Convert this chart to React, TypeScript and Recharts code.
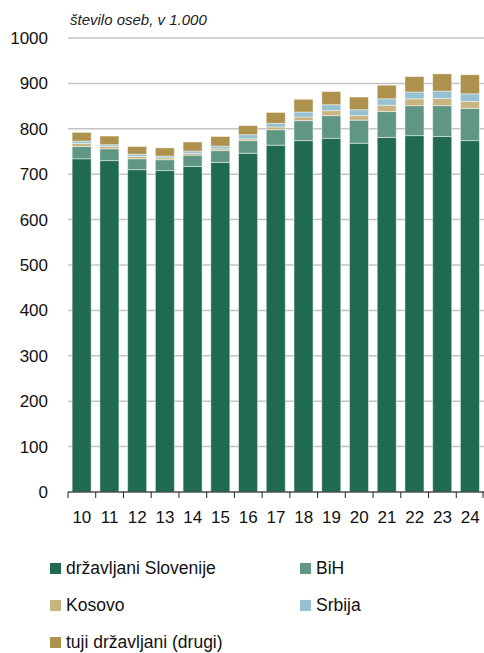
import { Bar, BarChart, CartesianGrid, Legend, XAxis, YAxis } from "recharts";

const years = ["10", "11", "12", "13", "14", "15", "16", "17", "18", "19", "20", "21", "22", "23", "24"];
const slovenija = [734, 730, 710, 708, 717, 726, 746, 764, 774, 779, 768, 781, 785, 783, 774];
const bih = [27, 26, 24, 24, 25, 26, 28, 34, 44, 50, 51, 57, 66, 68, 71];
const kosovo = [7, 5, 5, 4, 4, 4, 4, 6, 8, 11, 10, 14, 15, 16, 15];
const srbija = [5, 4, 5, 4, 5, 6, 9, 8, 11, 13, 13, 14, 15, 16, 17];
const drugi = [19, 19, 17, 18, 20, 21, 20, 24, 28, 29, 28, 30, 34, 38, 42];
const yTicks = [0, 100, 200, 300, 400, 500, 600, 700, 800, 900, 1000];

const series = [
  { key: "slovenija", name: "državljani Slovenije", color: "#1f6a50" },
  { key: "bih", name: "BiH", color: "#5f9784" },
  { key: "kosovo", name: "Kosovo", color: "#c8b47f" },
  { key: "srbija", name: "Srbija", color: "#96c1d1" },
  { key: "drugi", name: "tuji državljani (drugi)", color: "#ad914c" },
];

const data = years.map((y, i) => ({
  year: y,
  slovenija: slovenija[i],
  bih: bih[i],
  kosovo: kosovo[i],
  srbija: srbija[i],
  drugi: drugi[i],
}));

const W = 484;
const H = 653;
const LEFT = 68;
const STEP = (W - LEFT) / years.length;
const FONT = "'Liberation Sans', Arial, sans-serif";

function YearTick(props: any) {
  const { x, y, payload, index } = props;
  const last = index === years.length - 1;
  return (
    <g>
      <line x1={x - STEP / 2} x2={x - STEP / 2} y1={y} y2={y + 6} stroke="#222" />
      {last && <line x1={x + STEP / 2 - 1} x2={x + STEP / 2 - 1} y1={y} y2={y + 6} stroke="#222" />}
      <text x={x} y={y + 31} textAnchor="middle" fontSize={17} fill="#111" fontFamily={FONT}>
        {payload.value}
      </text>
    </g>
  );
}

function LegendBox() {
  return (
    <div style={{ position: "relative", width: W, height: 100, fontFamily: FONT, fontSize: 17.5, color: "#111" }}>
      {series.map((s, i) => (
        <div
          key={s.key}
          style={{
            position: "absolute",
            left: i % 2 === 0 ? 50 : 300,
            top: Math.floor(i / 2) * 37,
            display: "flex",
            alignItems: "center",
            height: 20,
          }}
        >
          <span style={{ width: 11, height: 11, background: s.color, marginRight: 5, display: "inline-block" }} />
          <span>{s.name}</span>
        </div>
      ))}
    </div>
  );
}

export default function App() {
  return (
    <div style={{ position: "absolute", left: 0, top: 0, width: W, height: H, background: "#fff" }}>
      <div
        style={{
          position: "absolute",
          left: 70,
          top: 11,
          fontFamily: FONT,
          fontStyle: "italic",
          fontSize: 15,
          color: "#222",
        }}
      >
        število oseb, v 1.000
      </div>
      <BarChart
        width={W}
        height={H}
        data={data}
        margin={{ top: 38, right: 0, left: 0, bottom: 121 }}
        barCategoryGap="15%"
      >
        <CartesianGrid vertical={false} stroke="#c4c4c4" strokeWidth={1.5} />
        <YAxis
          width={LEFT}
          domain={[0, 1000]}
          ticks={yTicks}
          axisLine={false}
          tickLine={false}
          tickSize={0}
          tickMargin={20}
          interval={0}
          tick={{ fontSize: 17, fill: "#111", fontFamily: FONT }}
        />
        <XAxis
          dataKey="year"
          height={40}
          tickSize={0}
          tickMargin={0}
          interval={0}
          axisLine={{ stroke: "#222", strokeWidth: 1 }}
          tickLine={false}
          tick={<YearTick />}
        />
        <Legend
          layout="horizontal"
          verticalAlign="middle"
          align="center"
          wrapperStyle={{ position: "absolute", top: 558, left: 0, width: W }}
          content={() => <LegendBox />}
        />
        {series.map((s) => (
          <Bar
            key={s.key}
            dataKey={s.key}
            name={s.name}
            stackId="a"
            fill={s.color}
            stroke="rgba(255,255,255,0.45)"
            strokeWidth={1}
            isAnimationActive={false}
          />
        ))}
      </BarChart>
    </div>
  );
}
